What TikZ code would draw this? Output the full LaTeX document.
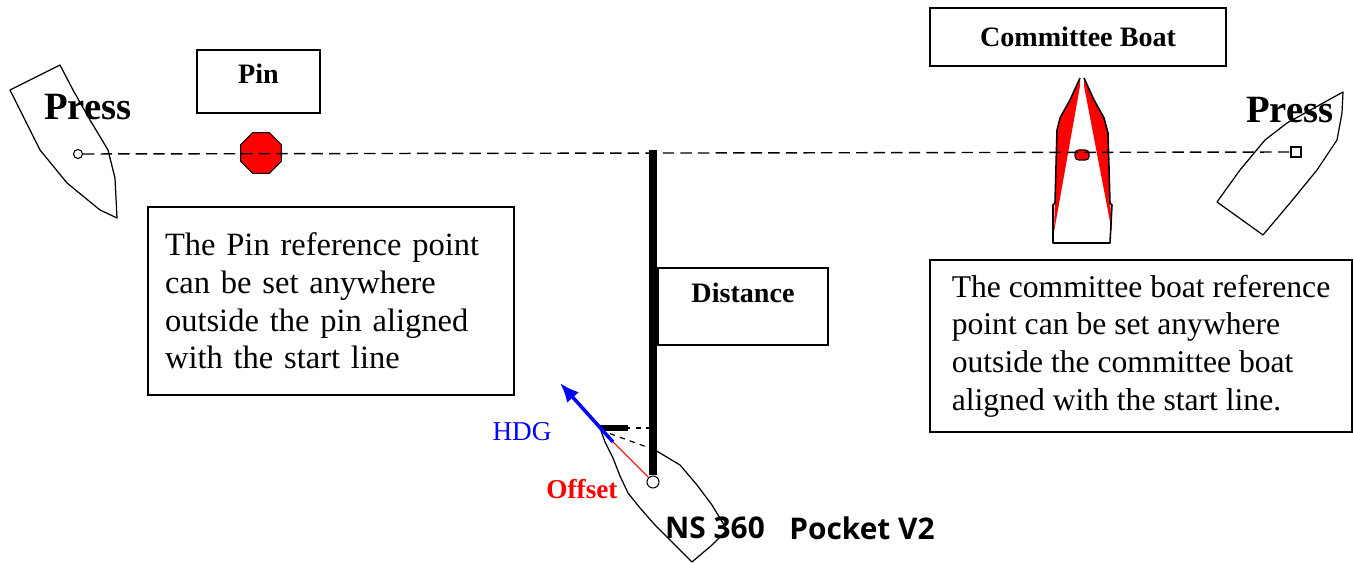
\documentclass[tikz,border=0pt]{standalone}
\usepackage{fontspec}
\setmainfont{Liberation Serif}
\newfontfamily\logofont{Open Sans}
\usetikzlibrary{shapes.geometric,arrows.meta}

\tikzset{
  titlebox/.style={draw, line width=0.9pt, inner sep=0pt, font=\fontsize{16}{18}\selectfont\bfseries},
  notebox/.style={draw, line width=0.9pt, align=left, inner ysep=0pt, font=\fontsize{18.5}{21.4}\selectfont},
  presslabel/.style={font=\fontsize{22}{24}\selectfont\bfseries},
  hull/.style={line width=0.7pt, line join=round},
  startline/.style={line width=0.8pt, dash pattern=on 6.5pt off 3.5pt},
  refmark/.style={draw, line width=0.6pt, fill=white, inner sep=0pt}
}

\begin{document}
\begin{tikzpicture}[x=0.02cm, y=-0.02cm]
      \useasboundingbox (0,0) rectangle (1353,563);

      % boats pressing the ends of the line
      \draw[hull] (10,90) -- (60,65) -- (73,90) -- (90,120) -- (108,150) -- (115,178)
                  -- (117,218) -- (100,210) -- (67,183) -- (40,150) -- cycle;
      \draw[hull] (1343,92) -- (1342,113) -- (1337,140) -- (1317,170) -- (1290,203)
                  -- (1263,235) -- (1217,202) -- (1240,170) -- (1265,140) -- (1287,123) -- cycle;
      \node[presslabel] (pressLText) at (88,107) {Press};
      \node[presslabel] (pressRText) at (1290,110) {Press};
      \node[refmark, shape=circle, minimum size=0.18cm] (pressL) at (78,154) {};
      \node[refmark, minimum size=0.2cm] (pressR) at (1296,152) {};

      % pin
      \node[titlebox, minimum width=2.46cm, minimum height=1.26cm, text depth=0.3cm] (pinBox) at (258.5,81.5) {Pin};
      \node[regular polygon, regular polygon sides=8, draw, line width=0.6pt, fill=red,
            minimum size=0.88cm, inner sep=0pt] (pin) at (261,153) {};

      % committee boat
      \node[titlebox, minimum width=5.92cm, minimum height=1.16cm] (cbBox) at (1078,37) {Committee Boat};
      \fill[red] (1080,80) -- (1070,100) -- (1060,118) -- (1057,130) -- (1055,200)
                 -- (1054,232) -- (1080,86) -- cycle;
      \fill[red] (1084,80) -- (1094,100) -- (1104,118) -- (1108,133) -- (1110,200)
                 -- (1112,232) -- (1084,86) -- cycle;
      \draw[hull, line width=0.9pt] (1080,78) -- (1070,100) -- (1060,118) -- (1057,130) -- (1055,203)
                 -- (1053,205) -- (1053,243) -- (1110,243) -- (1112,205) -- (1110,203) -- (1108,133)
                 -- (1104,118) -- (1094,100) -- (1084,78);
      \node[draw, line width=0.6pt, fill=red, rounded corners=2pt, minimum width=0.28cm,
            minimum height=0.2cm, inner sep=0pt] (cbRef) at (1082,155) {};

      % start line
      \path[startline] (pressL) edge (pressR);

      % notes
      \node[notebox, minimum width=7.32cm, minimum height=3.76cm, inner xsep=0.34cm, text width=6.64cm]
            (pinNote) at (331,301) {The Pin reference point\\can be set anywhere\\outside the pin aligned\\with the start line};
      \node[notebox, minimum width=8.44cm, minimum height=3.44cm, inner xsep=0.3cm, font=\fontsize{18}{21.4}\selectfont]
            (cbNote) at (1141,346) {The committee boat reference\\point can be set anywhere\\outside the committee boat\\aligned with the start line.};

      % own boat
      \draw[hull] (655,450) -- (680,465) -- (697,485) -- (712,505) -- (727,530) -- (712,545)
                  -- (692,562) -- (675,545) -- (655,525) -- (640,508) -- (628,493) -- (620,476)
                  -- (613,458) -- (605,442) -- (600,428);
      \draw[hull, dashed] (600,430) -- (655,450);
      \draw[hull, dashed] (625,428) -- (653,428);
      \coordinate (distTop) at (653,150);
      \coordinate (bow) at (613,442);
      \coordinate (hdgTip) at (560,383);
      \node[refmark, shape=circle, minimum size=0.24cm] (ownRef) at (653,482) {};
      \draw[line width=4.5pt] (distTop) -- (ownRef.north);
      \draw[line width=3pt] (600,428) -- (628,428);
      \draw[red, line width=0.6pt] (bow) -- (ownRef);
      \draw[blue, line width=2pt, -{Latex[length=11pt,width=9pt]}] (bow) -- (hdgTip);

      \node[titlebox, minimum width=3.4cm, minimum height=1.54cm, text depth=0.55cm] (distBox) at (743,306.5) {Distance};
      \node[blue, font=\fontsize{15.5}{18}\selectfont] (hdg) at (522,432) {HDG};
      \node[red, font=\fontsize{15.5}{18}\selectfont\bfseries] (offset) at (582,489) {Offset};
      \node[font=\logofont\fontsize{17}{20}\selectfont\bfseries] (ns) at (715,528) {NS 360};
      \node[font=\logofont\fontsize{17}{20}\selectfont\bfseries] (pocket) at (862,528) {Pocket V2};
\end{tikzpicture}
\end{document}
